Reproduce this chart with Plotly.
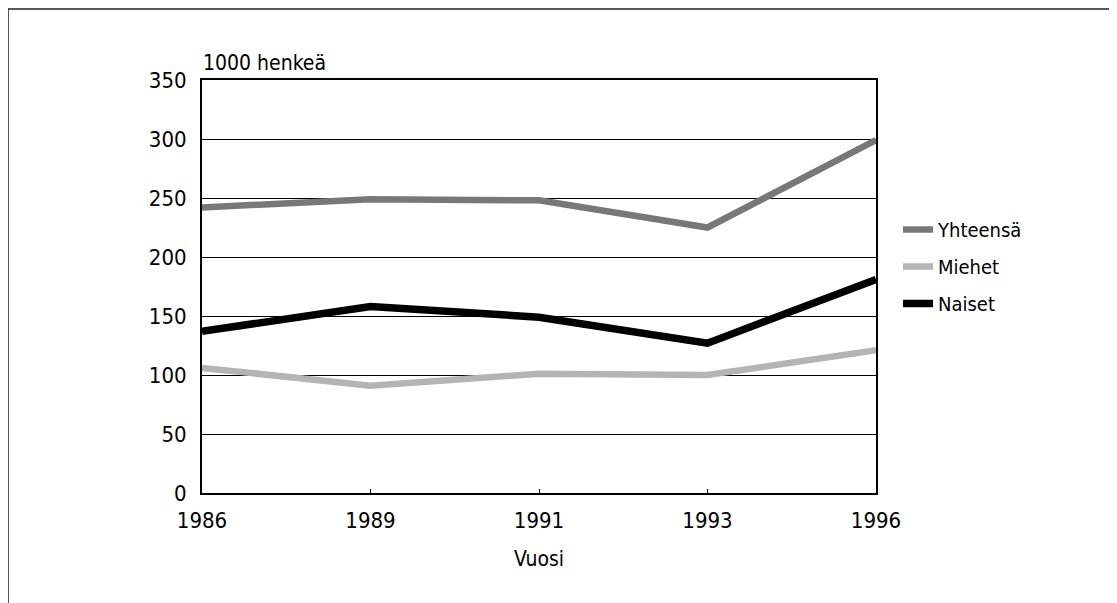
import plotly.graph_objects as go

years = ["1986", "1989", "1991", "1993", "1996"]
yhteensa = [242, 249, 248, 225, 299]
miehet = [106, 91, 101, 100, 121]
naiset = [137, 158, 149, 127, 181]

FONT = "Liberation Sans Narrow, Arial Narrow, DejaVu Sans Condensed, sans-serif"

OFF = 8  # page body margin
W, H = 1117 - OFF, 603 - OFF
L, R, T, B = 202 - OFF, 876 - OFF, 80 - OFF, 493 - OFF
pw, ph = R - L, B - T

def px(x):
    return (x - OFF - L) / pw

def py(y):
    return (B - (y - OFF)) / ph

fig = go.Figure()
fig.add_trace(go.Scatter(x=years, y=yhteensa, mode="lines", name="Yhteensä", legendgroup="a",
                         line=dict(color="#787878", width=6.5)))
fig.add_trace(go.Scatter(x=years, y=miehet, mode="lines", name="Miehet", legendgroup="b",
                         line=dict(color="#b4b4b4", width=6.5)))
fig.add_trace(go.Scatter(x=years, y=naiset, mode="lines", name="Naiset", legendgroup="c",
                         line=dict(color="#000000", width=7.5)))

fig.update_layout(
    width=W, height=H,
    margin=dict(l=L, r=W - R, t=T, b=H - B, pad=0),
    paper_bgcolor="white", plot_bgcolor="white",
    font=dict(family=FONT, size=21, color="black"),
    showlegend=True,
    legend=dict(x=px(898), y=py(210), xanchor="left", yanchor="top",
                font=dict(family=FONT, size=20, color="black"),
                tracegroupgap=8, itemwidth=30, bgcolor="rgba(0,0,0,0)"),
    xaxis=dict(type="category", range=[0, 4], showgrid=False,
               showline=True, linecolor="black", linewidth=2, mirror=True,
               ticks="inside", ticklen=4, tickcolor="black",
               tickfont=dict(family=FONT, size=22), ticklabelstandoff=7,
               title=dict(text="Vuosi", font=dict(family=FONT, size=21), standoff=19),
               zeroline=False, fixedrange=True),
    yaxis=dict(range=[0, 350], dtick=50, showgrid=True, gridcolor="black", gridwidth=1,
               showline=True, linecolor="black", linewidth=2, mirror=True,
               ticks="", tickfont=dict(family=FONT, size=22), ticklabelstandoff=9,
               zeroline=False, fixedrange=True),
    shapes=[dict(type="rect", xref="paper", yref="paper",
                 x0=px(8), x1=px(1112), y0=py(620), y1=py(9),
                 line=dict(color="#222222", width=1.5), layer="below")],
    annotations=[dict(text="1000 henkeä", xref="paper", yref="paper",
                      x=px(201), y=py(77), xanchor="left", yanchor="bottom",
                      showarrow=False, font=dict(family=FONT, size=21))],
)

fig.write_html("out.html")
